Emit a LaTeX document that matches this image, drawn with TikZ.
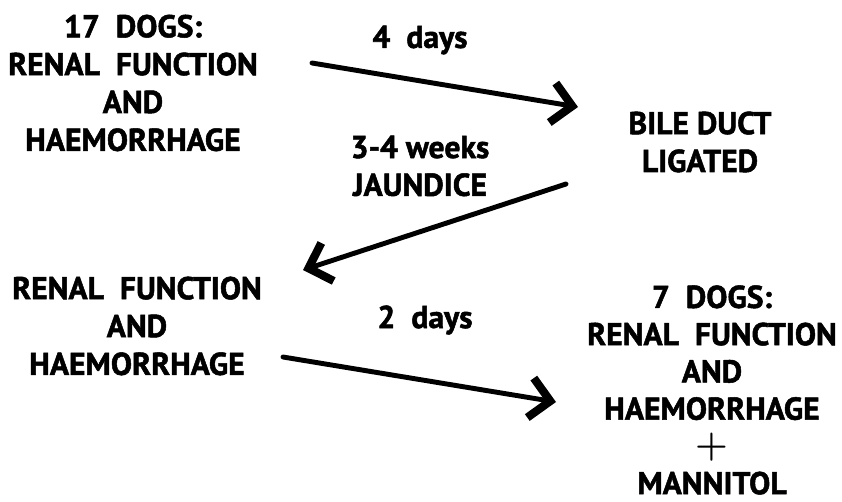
\documentclass[tikz,border=0pt]{standalone}
\usepackage{fontspec}
\setmainfont{PT Sans}[BoldFeatures={FakeBold=1.6}]
\newfontfamily\plusfont{Latin Modern Roman}
\usetikzlibrary{arrows.meta,positioning}
\tikzstyle{stage}=[align=center,inner sep=0pt,font=\bfseries\fontsize{27}{32.3}\selectfont]
\tikzstyle{delay}=[stage]
\tikzstyle{flow}=[line width=4.2pt,line cap=round,-{Straight Barb[length=6mm,width=12mm,line width=7pt]}]

\begin{document}
\begin{tikzpicture}[x=0.03cm,y=-0.03cm]
            \useasboundingbox (0,0) rectangle (842,501);

            % STAGES

            \node[stage] (dogs17) at (133,83) {17~ DOGS:\\RENAL~ FUNCTION\\AND\\HAEMORRHAGE};
            \node[stage] (ligated) at (700,142) {BILE DUCT\\LIGATED};
            \node[stage] (renal2) at (137,326) {RENAL~ FUNCTION\\AND\\HAEMORRHAGE};
            \node[stage,font=\bfseries\fontsize{27}{31.8}\selectfont] (dogs7) at (712,390) {7~ DOGS:\\RENAL~ FUNCTION\\AND\\HAEMORRHAGE\\{\plusfont\fontsize{32}{31.8}\selectfont +}\\MANNITOL};

            % DELAYS

            \node[delay] (days4) at (420,40) {4~ days};
            \node[delay] (jaundice) at (420,166) {3-4 weeks\\JAUNDICE};
            \node[delay] (days2) at (425,320) {2~ days};

            % ARROWS

            \coordinate (a1s) at (312,63);
            \coordinate (a1e) at (578,107);
            \coordinate (a2s) at (566,184);
            \coordinate (a2e) at (303,270);
            \coordinate (a3s) at (283,357);
            \coordinate (a3e) at (556,402);

            \path[flow] (a1s) edge (a1e);
            \path[flow] (a2s) edge (a2e);
            \path[flow] (a3s) edge (a3e);

\end{tikzpicture}
\end{document}
